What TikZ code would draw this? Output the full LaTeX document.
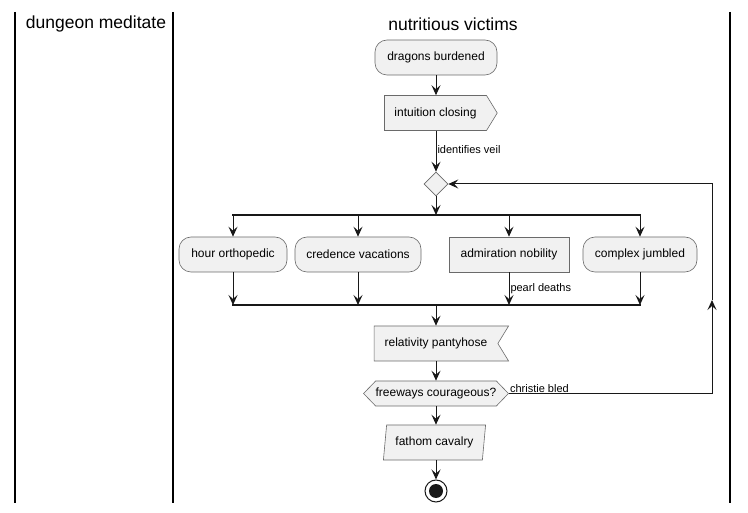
\documentclass[tikz,border=0pt]{standalone}
\usepackage{fontspec}
\setmainfont{Liberation Sans}
\usetikzlibrary{positioning,calc,arrows.meta,shapes.geometric,shapes.symbols}

\definecolor{boxfill}{HTML}{F1F1F1}
\definecolor{boxline}{HTML}{6A6A6A}
\definecolor{ink}{HTML}{181818}

\tikzset{
  act/.style={draw=boxline, fill=boxfill, line width=0.6pt,
              font=\fontsize{12}{14}\selectfont,
              minimum height=35pt, inner xsep=8pt},
  roundact/.style={act, rectangle, rounded corners=12pt},
  plainact/.style={act, rectangle},
  flow/.style={draw=ink, line width=1pt,
               -{Stealth[length=10pt,width=9pt,inset=4pt]}},
  joinbar/.style={draw=ink, line width=2pt},
  lane/.style={draw=black, line width=1.2pt},
  lanetitle/.style={font=\fontsize{17.5}{20}\selectfont},
  edgelabel/.style={font=\fontsize{11}{13}\selectfont, anchor=west, inner sep=1pt}
}

\begin{document}
\begin{tikzpicture}[x=1pt,y=-1pt]

  \useasboundingbox (0,0) rectangle (748,513);

  % swimlanes
  \draw[lane] (15,12) -- (15,503);
  \draw[lane] (173,12) -- (173,503);
  \draw[lane] (730,12) -- (730,503);
  \node[lanetitle] (laneA) at (96,24) {dungeon meditate};
  \node[lanetitle] (laneB) at (453,24) {nutritious victims};

  % activities
  \node[roundact, minimum width=122pt] (dragons) at (436,57.5) {dragons burdened};
  \node[act, shape=signal, signal to=east, signal pointer angle=117,
        inner xsep=10pt] (intuition) at (435.5,113) {intuition closing};
  \node[draw=boxline, fill=boxfill, line width=0.6pt, diamond,
        minimum width=24pt, minimum height=24pt, inner sep=0pt] (decide) at (436,184) {};

  \coordinate (forkL) at (232,215);
  \coordinate (forkR) at (641,215);
  \coordinate (joinL) at (232,305);
  \coordinate (joinR) at (641,305);

  \node[roundact, minimum width=108pt] (hour) at (233,254.5) {hour orthopedic};
  \node[roundact, minimum width=126pt] (credence) at (358,254.5) {credence vacations};
  \node[plainact, minimum width=120pt] (admiration) at (509,254.5) {admiration nobility};
  \node[roundact, minimum width=114pt] (complex) at (640,254.5) {complex jumbled};

  \node[act, shape=signal, signal to=nowhere, signal from=east, signal pointer angle=117,
        inner xsep=10.5pt] (relativity) at (436,343.5) {relativity pantyhose};
  \node[act, shape=signal, signal to=west and east, signal pointer angle=92,
        inner xsep=0pt, minimum height=25pt] (freeways) at (436,393.5) {freeways courageous?};
  \node[act, trapezium, trapezium left angle=80, trapezium right angle=100,
        trapezium stretches=true, minimum width=103pt] (fathom) at (434.5,442.5) {fathom cavalry};
  \node[circle, draw=ink, line width=1pt, minimum size=22pt, inner sep=0pt] (stop) at (436,491) {};
  \fill[ink] (stop) circle (7pt);

  % connectors
  \draw[flow] (dragons) -- (dragons.south |- intuition.north);
  \draw[flow] (dragons.south |- intuition.south) -- (decide.north)
    node[edgelabel, pos=0.45] (veil) {identifies veil};
  \draw[flow] (decide.south) -- (decide.south |- forkL);
  \draw[joinbar] (forkL) -- (forkR);
  \draw[joinbar] (joinL) -- (joinR);
  \foreach \act in {hour,credence,admiration,complex}{
    \draw[flow] (\act.north |- forkL) -- (\act.north);
  }
  \draw[flow] (hour.south) -- (hour.south |- joinL);
  \draw[flow] (credence.south) -- (credence.south |- joinL);
  \draw[flow] (admiration.south) -- (admiration.south |- joinL)
    node[edgelabel, pos=0.5] (pearl) {pearl deaths};
  \draw[flow] (complex.south) -- (complex.south |- joinL);
  \draw[flow] (decide.south |- joinL) -- (decide.south |- relativity.north);
  \draw[flow] (decide.south |- relativity.south) -- (freeways.north);
  \draw[flow] (freeways.south) -- (freeways.south |- fathom.north);
  \draw[flow] (freeways.south |- fathom.south) -- (stop.north);

  % loop back
  \coordinate (loopup) at (712,300);
  \draw[flow] (freeways.east) -| (loopup);
  \draw[flow] (loopup) |- (decide.east);
  \node[edgelabel, anchor=south west] (bled) at (freeways.east) {christie bled};

\end{tikzpicture}
\end{document}
